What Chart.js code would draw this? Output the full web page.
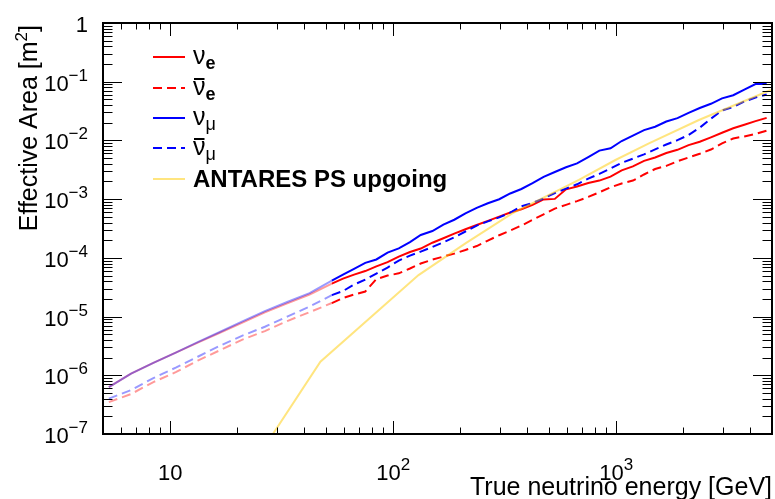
<!DOCTYPE html>
<html>
<head>
<meta charset="utf-8">
<script src="https://cdn.jsdelivr.net/npm/chart.js@4.4.0/dist/chart.umd.min.js"></script>
<style>
  html, body { margin: 0; padding: 0; background: #fff; }
  #wrap { position: relative; width: 775px; height: 499px; }
</style>
</head>
<body>
<div id="wrap"><canvas id="c" width="775" height="499"></canvas></div>
<script>
// energy bins (GeV): low part drawn faded, high part solid
const E_LOW = [5.31, 6.68, 8.41, 10.6, 13.3, 16.8, 21.1, 26.6, 33.5, 42.2, 53.1];
const E_HIGH = [53.1, 59.6, 66.8, 75.0, 84.1, 94.4, 106, 119, 133, 150, 168, 188, 211, 237, 266, 299, 335, 376, 422, 473,
  531, 596, 668, 750, 841, 944, 1059, 1189, 1334, 1496, 1679, 1884, 2113, 2371, 2661, 2985, 3350, 3758, 4217, 4732];

// effective area (m^2)
const NUE_LOW = [6.29e-7, 1.07e-6, 1.63e-6, 2.44e-6, 3.60e-6, 5.35e-6, 7.90e-6, 1.18e-5, 1.68e-5, 2.38e-5, 3.65e-5];
const NUEBAR_LOW = [3.49e-7, 4.79e-7, 7.66e-7, 1.13e-6, 1.78e-6, 2.69e-6, 4.06e-6, 5.66e-6, 8.38e-6, 1.19e-5, 1.70e-5];
const NUMU_LOW = [6.29e-7, 1.07e-6, 1.63e-6, 2.44e-6, 3.68e-6, 5.51e-6, 8.28e-6, 1.24e-5, 1.77e-5, 2.51e-5, 4.10e-5];
const NUMUBAR_LOW = [4.01e-7, 5.60e-7, 8.96e-7, 1.35e-6, 2.07e-6, 3.21e-6, 4.74e-6, 6.70e-6, 1.00e-5, 1.48e-5, 2.32e-5];

const NUE = [3.65e-5, 4.44e-5, 5.19e-5, 5.96e-5, 7.16e-5, 8.48e-5, 1.05e-4, 1.26e-4, 1.44e-4, 1.81e-4,
  2.16e-4, 2.59e-4, 3.07e-4, 3.62e-4, 4.27e-4, 5.04e-4, 5.93e-4, 6.73e-4, 8.00e-4, 9.89e-4,
  1.01e-3, 1.47e-3, 1.64e-3, 1.88e-3, 2.07e-3, 2.42e-3, 3.10e-3, 3.61e-3, 4.49e-3, 5.13e-3,
  6.10e-3, 6.92e-3, 8.32e-3, 9.51e-3, 1.13e-2, 1.35e-2, 1.61e-2, 1.85e-2, 2.13e-2, 2.42e-2];
const NUEBAR = [1.70e-5, 2.07e-5, 2.37e-5, 2.67e-5, 4.35e-5, 4.99e-5, 5.45e-5, 6.58e-5, 8.00e-5, 9.35e-5,
  1.05e-4, 1.18e-4, 1.36e-4, 1.59e-4, 1.97e-4, 2.43e-4, 2.92e-4, 3.55e-4, 4.44e-4, 5.51e-4,
  6.89e-4, 8.00e-4, 9.25e-4, 1.09e-3, 1.31e-3, 1.59e-3, 1.85e-3, 2.07e-3, 2.63e-3, 3.26e-3,
  3.69e-3, 4.42e-3, 5.13e-3, 5.93e-3, 7.00e-3, 8.93e-3, 1.08e-2, 1.17e-2, 1.29e-2, 1.47e-2];
const NUMU = [4.10e-5, 5.18e-5, 6.50e-5, 8.22e-5, 9.39e-5, 1.23e-4, 1.45e-4, 1.85e-4, 2.45e-4, 2.86e-4,
  3.69e-4, 4.46e-4, 5.73e-4, 7.11e-4, 8.51e-4, 9.96e-4, 1.25e-3, 1.49e-3, 1.87e-3, 2.40e-3,
  2.90e-3, 3.49e-3, 4.07e-3, 5.21e-3, 6.70e-3, 7.36e-3, 9.77e-3, 1.21e-2, 1.50e-2, 1.71e-2,
  2.10e-2, 2.40e-2, 2.95e-2, 3.56e-2, 4.21e-2, 5.21e-2, 5.89e-2, 7.33e-2, 9.14e-2, 9.14e-2];
const NUMUBAR = [2.32e-5, 2.72e-5, 3.51e-5, 4.27e-5, 5.41e-5, 6.84e-5, 9.00e-5, 1.09e-4, 1.28e-4, 1.53e-4,
  1.84e-4, 2.24e-4, 2.81e-4, 3.55e-4, 4.19e-4, 4.90e-4, 5.89e-4, 7.54e-4, 8.59e-4, 1.03e-3,
  1.27e-3, 1.51e-3, 1.79e-3, 2.23e-3, 2.70e-3, 3.32e-3, 4.15e-3, 4.90e-3, 5.80e-3, 7.03e-3,
  8.51e-3, 1.01e-2, 1.24e-2, 1.65e-2, 2.35e-2, 3.23e-2, 3.71e-2, 4.60e-2, 5.38e-2, 6.05e-2];

const ANTARES_E = [28.7, 47.2, 130, 211, 342, 681, 993, 1403, 2350, 4940];
const ANTARES_A = [9.6e-8, 1.70e-6, 5.09e-5, 1.77e-4, 5.73e-4, 2.12e-3, 4.64e-3, 8.93e-3, 2.23e-2, 7.22e-2];

const X_TICK_VALUES = [10, 100, 1000];
const X_TICK_SUP = ['', '2', '3'];
const Y_TICK_VALUES = [1, 1e-1, 1e-2, 1e-3, 1e-4, 1e-5, 1e-6, 1e-7];
const Y_TICK_SUP = ['', '\u22121', '\u22122', '\u22123', '\u22124', '\u22125', '\u22126', '\u22127'];

const FONT = '"Liberation Sans", Arial, Helvetica, sans-serif';
const RED = '#ff0000', BLUE = '#0000ff';
const RED_FADE = 'rgba(255,0,0,0.4)', BLUE_FADE = 'rgba(0,0,255,0.4)';
const YELLOW = 'rgba(255,204,0,0.5)';
const DASH = [9, 5];

const pts = (xs, ys) => xs.map((v, i) => ({ x: v, y: ys[i] }));
const line = (data, color, dash) => ({ data, borderColor: color, borderWidth: 2, borderDash: dash || [], pointRadius: 0, tension: 0, fill: false });

function supText(ctx, base, sup, x, y, align, size, supSize, raise) {
  ctx.font = size + 'px ' + FONT;
  const wb = ctx.measureText(base).width;
  ctx.font = supSize + 'px ' + FONT;
  const ws = sup ? ctx.measureText(sup).width : 0;
  const x0 = align === 'right' ? x - wb - ws : x - (wb + ws) / 2;
  ctx.textAlign = 'left';
  ctx.textBaseline = 'alphabetic';
  ctx.font = size + 'px ' + FONT;
  ctx.fillText(base, x0, y);
  if (sup) { ctx.font = supSize + 'px ' + FONT; ctx.fillText(sup, x0 + wb, y - raise); }
}

const rootFrame = {
  id: 'rootFrame',
  afterDatasetsDraw(chart) {
    const { ctx, chartArea: a, scales: { x, y } } = chart;
    ctx.save();
    ctx.strokeStyle = '#000';
    ctx.lineWidth = 1;
    ctx.beginPath();
    // x ticks, bottom and top
    for (let d = 0; d <= 3; d++) for (let m = 1; m <= 9; m++) {
      const v = m * Math.pow(10, d);
      if (v <= 5 || v >= 5000) continue;
      const px = Math.round(x.getPixelForValue(v)) + 0.5;
      const len = m === 1 ? 13 : 6.5;
      ctx.moveTo(px, a.bottom); ctx.lineTo(px, a.bottom - len);
      ctx.moveTo(px, a.top); ctx.lineTo(px, a.top + len);
    }
    // y ticks, left and right
    for (let d = -7; d <= 0; d++) for (let m = 1; m <= 9; m++) {
      const v = m * Math.pow(10, d);
      if (v <= 1e-7 || v >= 1) continue;
      const py = Math.round(y.getPixelForValue(v)) + 0.5;
      const len = m === 1 ? 19 : 9.5;
      ctx.moveTo(a.left, py); ctx.lineTo(a.left + len, py);
      ctx.moveTo(a.right, py); ctx.lineTo(a.right - len, py);
    }
    ctx.stroke();
    ctx.lineWidth = 2;
    ctx.strokeRect(a.left, a.top, a.right - a.left, a.bottom - a.top);

    ctx.fillStyle = '#000';
    // tick labels
    Y_TICK_VALUES.forEach((v, i) => {
      const py = y.getPixelForValue(v);
      supText(ctx, Y_TICK_SUP[i] ? '10' : '1', Y_TICK_SUP[i], 88, py + 9, 'right', 22, 17, 10);
    });
    X_TICK_VALUES.forEach((v, i) => {
      const px = x.getPixelForValue(v);
      supText(ctx, '10', X_TICK_SUP[i], px, 480, 'center', 22, 17, 10);
    });

    // axis titles
    ctx.font = '25px ' + FONT;
    ctx.textAlign = 'right';
    ctx.fillText('True neutrino energy [GeV]', a.right, 495);

    ctx.save();
    ctx.translate(37, 25);
    ctx.rotate(-Math.PI / 2);
    ctx.textAlign = 'left';
    const t1 = 'Effective Area [m', t2 = '2', t3 = ']';
    ctx.font = '25px ' + FONT; const w1 = ctx.measureText(t1).width, w3 = ctx.measureText(t3).width;
    ctx.font = '17px ' + FONT; const w2 = ctx.measureText(t2).width;
    const x0 = -(w1 + w2 + w3);
    ctx.font = '25px ' + FONT; ctx.fillText(t1, x0, 0); ctx.fillText(t3, x0 + w1 + w2, 0);
    ctx.font = '17px ' + FONT; ctx.fillText(t2, x0 + w1, -10);
    ctx.restore();

    // legend
    const rows = [
      { c: RED, dash: [], sub: 'e', bar: false, bold: true },
      { c: RED, dash: DASH, sub: 'e', bar: true, bold: true },
      { c: BLUE, dash: [], sub: '\u03bc', bar: false, bold: false },
      { c: BLUE, dash: DASH, sub: '\u03bc', bar: true, bold: false },
      { c: YELLOW, dash: [], text: 'ANTARES PS upgoing' }
    ];
    const ys = [57, 88, 118, 148, 179];
    rows.forEach((r, i) => {
      const ly = ys[i];
      ctx.save();
      ctx.strokeStyle = r.c; ctx.lineWidth = 2; ctx.setLineDash(r.dash);
      ctx.beginPath(); ctx.moveTo(153, ly); ctx.lineTo(185, ly); ctx.stroke();
      ctx.restore();
      ctx.fillStyle = '#000';
      ctx.textAlign = 'left'; ctx.textBaseline = 'alphabetic';
      if (r.text) {
        ctx.font = 'bold 24px ' + FONT;
        ctx.fillText(r.text, 193, ly + 8);
        return;
      }
      ctx.font = '25px ' + FONT;
      const wn = ctx.measureText('\u03bd').width;
      ctx.fillText('\u03bd', 193, ly + 7);
      if (r.bar) { ctx.fillRect(194, ly - 10, wn - 2, 2); }
      ctx.font = (r.bold ? 'bold 18px ' : '18px ') + FONT;
      ctx.fillText(r.sub, 193 + wn, ly + 12);
    });
    ctx.restore();
  }
};

new Chart(document.getElementById('c'), {
  type: 'line',
  data: {
    datasets: [
      line(pts(ANTARES_E, ANTARES_A), YELLOW),
      line(pts(E_HIGH, NUMU), BLUE),
      line(pts(E_HIGH, NUMUBAR), BLUE, DASH),
      line(pts(E_HIGH, NUE), RED),
      line(pts(E_HIGH, NUEBAR), RED, DASH),
      line(pts(E_LOW, NUMU_LOW), BLUE_FADE),
      line(pts(E_LOW, NUMUBAR_LOW), BLUE_FADE, DASH),
      line(pts(E_LOW, NUE_LOW), RED_FADE),
      line(pts(E_LOW, NUEBAR_LOW), RED_FADE, DASH)
    ]
  },
  options: {
    responsive: false,
    animation: false,
    events: [],
    layout: { padding: { left: 103, top: 23, right: 3, bottom: 65 } },
    plugins: { legend: { display: false }, tooltip: { enabled: false } },
    scales: {
      x: { type: 'logarithmic', min: 5, max: 5000, display: false },
      y: { type: 'logarithmic', min: 1e-7, max: 1, display: false }
    }
  },
  plugins: [rootFrame]
});
</script>
</body>
</html>
